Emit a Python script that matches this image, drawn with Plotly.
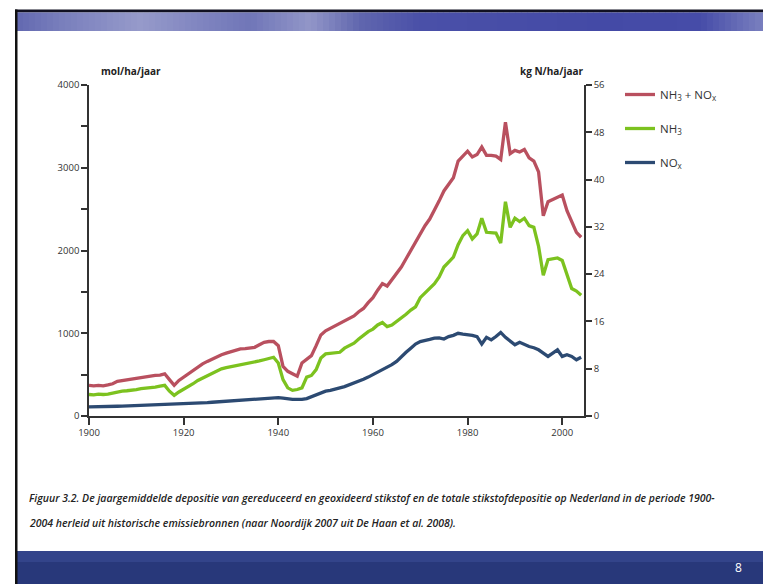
import plotly.graph_objects as go

years = list(range(1900, 2005))

total_nh3_nox = [
    370, 365, 370, 365, 375, 390, 420, 430, 435, 450,
    455, 465, 470, 480, 490, 495, 510, 440, 370, 430,
    470, 510, 550, 600, 630, 660, 690, 720, 740, 760,
    780, 790, 810, 815, 820, 830, 860, 890, 900, 900,
    850, 600, 540, 510, 480, 640, 690, 730, 850, 980,
    1030, 1060, 1080, 1120, 1150, 1170, 1210, 1260, 1300, 1370,
    1430, 1520, 1600, 1570, 1650, 1720, 1800, 1900, 2000, 2120,
    2220, 2300, 2380, 2480, 2600, 2720, 2800, 2880, 3080, 3140,
    3200, 3130, 3160, 3250, 3150, 3150, 3140, 3100, 3550, 3170,
    3210, 3190, 3220, 3120, 3080, 2950, 2420, 2590, 2620, 2650,
    2670, 2480, 2350, 2220, 2160,
]

nh3 = [
    260, 255, 265, 260, 265, 280, 290, 300, 305, 310,
    320, 330, 335, 345, 350, 360, 370, 300, 250, 290,
    320, 350, 390, 430, 460, 490, 520, 550, 570, 585,
    595, 605, 620, 625, 635, 645, 665, 680, 695, 710,
    640, 440, 340, 310, 320, 340, 470, 490, 560, 700,
    750, 755, 760, 770, 820, 850, 880, 930, 980, 1020,
    1050, 1100, 1130, 1080, 1100, 1140, 1190, 1230, 1280, 1320,
    1430, 1490, 1540, 1600, 1680, 1800, 1860, 1920, 2070, 2180,
    2240, 2140, 2200, 2390, 2220, 2210, 2210, 2090, 2590, 2280,
    2390, 2350, 2390, 2300, 2280, 2050, 1700, 1890, 1900, 1910,
    1880, 1720, 1540, 1510, 1460,
]

nox = [
    110, 110, 112, 113, 115, 116, 118, 120, 122, 124,
    126, 128, 130, 132, 135, 137, 138, 138, 138, 140,
    145, 148, 152, 155, 158, 162, 166, 170, 174, 178,
    182, 186, 190, 195, 200, 205, 210, 215, 220, 225,
    222, 215, 205, 200, 200, 200, 210, 235, 260, 285,
    300, 310, 330, 340, 355, 375, 395, 420, 445, 470,
    500, 525, 550, 580, 620, 660, 720, 770, 820, 870,
    900, 910, 925, 940, 945, 930, 960, 975, 1000, 990,
    985, 975, 960, 870, 950, 920, 960, 1010, 950, 910,
    860, 890, 860, 840, 825, 800, 760, 720, 760, 800,
    720, 740, 720, 680, 710,
]

left_tickvals = list(range(0, 4001, 500))
left_ticktext = [str(v) if v % 1000 == 0 else "" for v in left_tickvals]
right_tickvals = list(range(0, 57, 8))
x_tickvals = list(range(1900, 2001, 20))

series = [
    ("NH<sub>3</sub> + NO<sub>x</sub>", total_nh3_nox, "#b9505f"),
    ("NH<sub>3</sub>", nh3, "#7cc21f"),
    ("NO<sub>x</sub>", nox, "#2c4a72"),
]

# page has an 8px body margin; work in page pixels and convert
OFF = 8
W, H = 771 - OFF, 584 - OFF
PL, PR, PT, PB = 89, 584, 85, 416  # plot area in page pixels
L, R, T, B = PL - OFF, PR - OFF, PT - OFF, PB - OFF


def px(x):
    return (x - PL) / (PR - PL)


def py(y):
    return (PB - y) / (PB - PT)


fig = go.Figure()
for i, (name, vals, col) in enumerate(series):
    fig.add_trace(go.Scatter(
        x=years, y=vals, name=name, mode="lines",
        line=dict(color=col, width=3.3),
        legendgroup="g%d" % i,
    ))
fig.add_trace(go.Scatter(x=[1900], y=[0], yaxis="y2", showlegend=False,
                         mode="markers", marker=dict(opacity=0), hoverinfo="skip"))

axfont = dict(family="Open Sans", size=9.5, color="#333333")

shapes = []
shapes.append(dict(type="rect", xref="paper", yref="paper",
                   x0=px(15), x1=px(780), y0=py(12.5), y1=py(9.5),
                   fillcolor="#111122", line=dict(width=0), layer="below"))
# banner colour stops (page x, rgb) for a smooth-looking band
stops = [(17, (98, 104, 176)), (60, (120, 126, 188)), (140, (150, 154, 202)),
         (200, (128, 133, 192)), (250, (112, 118, 184)), (310, (146, 150, 200)),
         (360, (96, 102, 174)), (420, (74, 80, 168)), (600, (68, 74, 166)),
         (700, (70, 76, 168)), (760, (120, 126, 190)), (780, (120, 126, 190))]
step = 6
xs = list(range(17, 780, step))
for a in xs:
    b = a + step
    m = a + step / 2
    for k in range(len(stops) - 1):
        if stops[k][0] <= m <= stops[k + 1][0]:
            x0s, c0 = stops[k]
            x1s, c1 = stops[k + 1]
            t = (m - x0s) / (x1s - x0s)
            col = tuple(int(round(c0[j] + (c1[j] - c0[j]) * t)) for j in range(3))
            break
    shapes.append(dict(type="rect", xref="paper", yref="paper",
                       x0=px(a), x1=px(b + 0.5), y0=py(31), y1=py(12.5),
                       fillcolor="rgb(%d,%d,%d)" % col, line=dict(width=0),
                       layer="below"))
shapes.append(dict(type="rect", xref="paper", yref="paper",
                   x0=px(15), x1=px(780), y0=py(600), y1=py(551),
                   fillcolor="#28387a", line=dict(width=0), layer="below"))
shapes.append(dict(type="rect", xref="paper", yref="paper",
                   x0=px(15), x1=px(780), y0=py(562), y1=py(551),
                   fillcolor="#33448a", line=dict(width=0), layer="below"))
shapes.append(dict(type="rect", xref="paper", yref="paper",
                   x0=px(15), x1=px(17.5), y0=py(600), y1=py(9.5),
                   fillcolor="#111111", line=dict(width=0), layer="below"))

cap_font = dict(family="Open Sans", size=10.5, color="#222222", style="italic",
                weight=600)
annotations = [
    dict(text="<b>mol/ha/jaar</b>", x=px(131), y=py(71), xref="paper", yref="paper",
         xanchor="center", yanchor="middle", showarrow=False,
         font=dict(family="Open Sans", size=10, color="#222222")),
    dict(text="<b>kg N/ha/jaar</b>", x=px(552), y=py(71), xref="paper", yref="paper",
         xanchor="center", yanchor="middle", showarrow=False,
         font=dict(family="Open Sans", size=10, color="#222222")),
    dict(text="Figuur 3.2. De jaargemiddelde depositie van gereduceerd en geoxideerd stikstof en de totale stikstofdepositie op Nederland in de periode 1900-",
         x=px(27), y=py(498), xref="paper", yref="paper", xanchor="left",
         yanchor="middle", showarrow=False, font=cap_font),
    dict(text="2004 herleid uit historische emissiebronnen (naar Noordijk 2007 uit De Haan et al. 2008).",
         x=px(27), y=py(523), xref="paper", yref="paper", xanchor="left",
         yanchor="middle", showarrow=False, font=cap_font),
    dict(text="8", x=px(738), y=py(567), xref="paper", yref="paper",
         xanchor="center", yanchor="middle", showarrow=False,
         font=dict(family="Open Sans", size=12, color="#ffffff")),
]

fig.update_layout(
    width=W, height=H,
    margin=dict(l=L, r=W - R, t=T, b=H - B, pad=0),
    paper_bgcolor="white", plot_bgcolor="white",
    showlegend=True,
    legend=dict(x=px(620), y=py(80), xanchor="left", yanchor="top",
                font=dict(family="Open Sans", size=11.5, color="#333333"),
                tracegroupgap=15, bgcolor="rgba(0,0,0,0)"),
    xaxis=dict(range=[1900, 2004.6], tickvals=x_tickvals, showgrid=False,
               zeroline=False, showline=True, linecolor="#333333", linewidth=1.5,
               ticks="outside", ticklen=7, tickcolor="#333333", tickwidth=1.5,
               tickfont=axfont),
    yaxis=dict(range=[0, 4000], tickvals=left_tickvals, ticktext=left_ticktext,
               showgrid=False, zeroline=False, showline=True, linecolor="#333333",
               linewidth=1.5, ticks="outside", ticklen=6, tickcolor="#333333",
               tickwidth=1.5, tickfont=axfont),
    yaxis2=dict(range=[0, 56], tickvals=right_tickvals, overlaying="y", side="right",
                showgrid=False, zeroline=False, showline=True, linecolor="#333333",
                linewidth=1.5, ticks="outside", ticklen=6, tickcolor="#333333",
                tickwidth=1.5, tickfont=axfont),
    shapes=shapes,
    annotations=annotations,
)

fig.write_html("out.html")
